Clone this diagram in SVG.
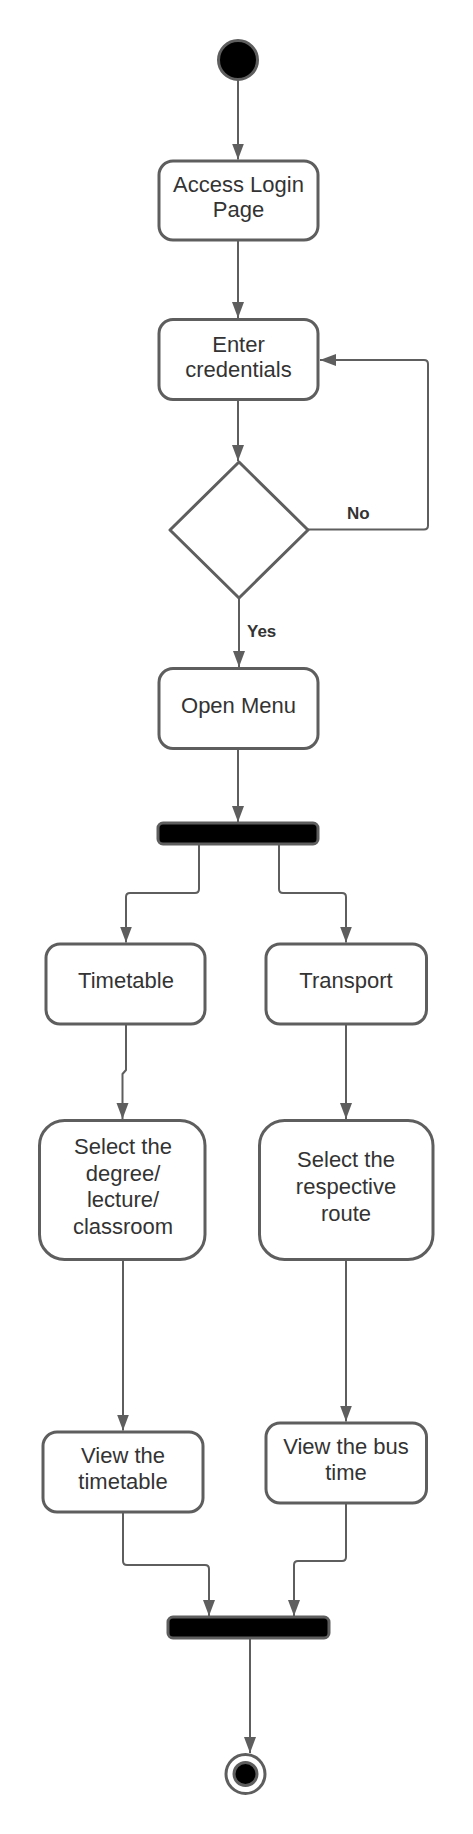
<svg xmlns="http://www.w3.org/2000/svg" width="473" height="1834" viewBox="0 0 473 1834" font-family="Liberation Sans, Arial, Helvetica, sans-serif">
<style>
.box{fill:#ffffff;stroke:#5e5e5e;stroke-width:3}
.bar{fill:#000000;stroke:#5e5e5e;stroke-width:3}
.conn{fill:none;stroke:#5e5e5e;stroke-width:2;stroke-linejoin:round}
.t{font-size:22px;fill:#333333;text-anchor:middle}
.lbl{font-size:17px;font-weight:bold;fill:#333333}
</style>
<defs>
<marker id="arr" markerUnits="userSpaceOnUse" markerWidth="17" markerHeight="13" refX="16" refY="6.5" orient="auto">
<path d="M0,0.5 L16,6.5 L0,12.5 z" fill="#5e5e5e"/>
</marker>
</defs>
<rect width="473" height="1834" fill="#ffffff"/>
<g id="connectors">
<path class="conn" d="M238 80 L238 159.5" marker-end="url(#arr)"/>
<path class="conn" d="M238 240 L238 318" marker-end="url(#arr)"/>
<path class="conn" d="M238 400 L238 461" marker-end="url(#arr)"/>
<path class="conn" d="M239 598 L239 667" marker-end="url(#arr)"/>
<path class="conn" d="M308 529.5 L424 529.5 Q428 529.5 428 525.5 L428 364 Q428 360 424 360 L320 360" marker-end="url(#arr)"/>
<path class="conn" d="M238 749 L238 822" marker-end="url(#arr)"/>
<path class="conn" d="M199 845 L199 889 Q199 893 195 893 L130 893 Q126 893 126 897 L126 942.5" marker-end="url(#arr)"/>
<path class="conn" d="M279 845 L279 889 Q279 893 283 893 L342 893 Q346 893 346 897 L346 942.5" marker-end="url(#arr)"/>
<path class="conn" d="M126 1024 L126 1070 L122.5 1074 L122.5 1119" marker-end="url(#arr)"/>
<path class="conn" d="M346 1024 L346 1119" marker-end="url(#arr)"/>
<path class="conn" d="M123 1260 L123 1430.5" marker-end="url(#arr)"/>
<path class="conn" d="M346 1260 L346 1421.5" marker-end="url(#arr)"/>
<path class="conn" d="M123 1512 L123 1561 Q123 1565 127 1565 L205 1565 Q209 1565 209 1569 L209 1616" marker-end="url(#arr)"/>
<path class="conn" d="M346 1503 L346 1557 Q346 1561 342 1561 L298 1561 Q294 1561 294 1565 L294 1616" marker-end="url(#arr)"/>
<path class="conn" d="M250 1639 L250 1753" marker-end="url(#arr)"/>
</g>
<g id="start"><circle cx="238" cy="60" r="19.5" class="bar"/></g>
<g id="access"><rect class="box" x="159" y="161" width="159" height="79" rx="14"/>
<text class="t" x="238.5" y="191.5">Access Login</text><text class="t" x="238.5" y="217">Page</text></g>
<g id="enter"><rect class="box" x="159" y="319.5" width="159" height="80" rx="14"/>
<text class="t" x="238.5" y="351.7">Enter</text><text class="t" x="238.5" y="377.3">credentials</text></g>
<g id="decision"><path class="box" stroke-linejoin="round" d="M239 462 L308 530 L239 598 L170 530 Z"/></g>
<text class="lbl" x="347" y="519">No</text>
<text class="lbl" x="247" y="637">Yes</text>
<g id="openmenu"><rect class="box" x="159" y="668.5" width="159" height="80" rx="14"/>
<text class="t" x="238.5" y="713.3">Open Menu</text></g>
<g id="fork"><rect class="bar" x="158" y="823" width="160" height="21" rx="5"/></g>
<g id="timetable"><rect class="box" x="46" y="944" width="159" height="80" rx="14"/>
<text class="t" x="126" y="988.3">Timetable</text></g>
<g id="transport"><rect class="box" x="266" y="944" width="160.5" height="80" rx="14"/>
<text class="t" x="346" y="988.3">Transport</text></g>
<g id="selectdegree"><rect class="box" x="39.5" y="1120.5" width="165.5" height="139" rx="25"/>
<text class="t" x="123" y="1154">Select the</text><text class="t" x="123" y="1180.7">degree/</text><text class="t" x="123" y="1207.3">lecture/</text><text class="t" x="123" y="1234">classroom</text></g>
<g id="selectroute"><rect class="box" x="259.5" y="1120.5" width="173.5" height="139" rx="25"/>
<text class="t" x="346" y="1167.3">Select the</text><text class="t" x="346" y="1194">respective</text><text class="t" x="346" y="1220.7">route</text></g>
<g id="viewtimetable"><rect class="box" x="43" y="1432" width="160" height="80" rx="14"/>
<text class="t" x="123" y="1463.3">View the</text><text class="t" x="123" y="1489.3">timetable</text></g>
<g id="viewbus"><rect class="box" x="266" y="1423" width="160.5" height="80" rx="14"/>
<text class="t" x="346" y="1454">View the bus</text><text class="t" x="346" y="1480">time</text></g>
<g id="join"><rect class="bar" x="168" y="1617" width="161" height="21" rx="5"/></g>
<g id="end"><circle cx="245.5" cy="1774" r="19.5" fill="#ffffff" stroke="#5e5e5e" stroke-width="3"/>
<circle cx="245.5" cy="1774" r="11.5" class="bar"/></g>
</svg>
